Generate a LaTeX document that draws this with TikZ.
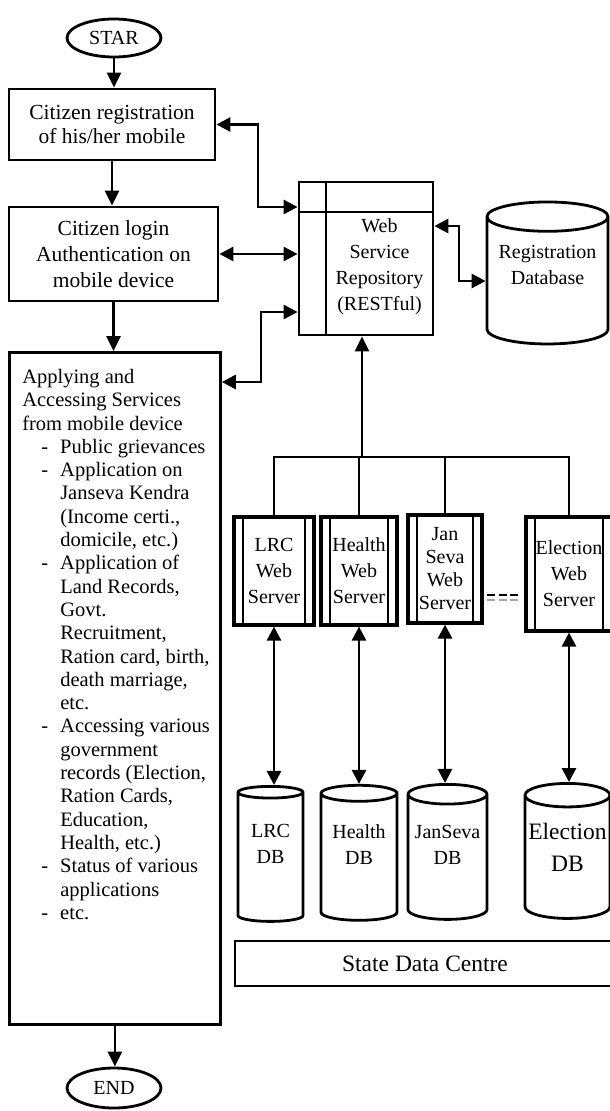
\documentclass[tikz,border=0pt]{standalone}
\usepackage{fontspec}
\setmainfont{Liberation Serif}
\usetikzlibrary{positioning,shapes.geometric,arrows.meta}

\newcommand{\bitem}{\hspace*{19pt}\makebox[19pt][l]{-}}
\newcommand{\bcont}{\hspace*{38pt}}
\newcommand{\lowstrut}[1]{\rule[-#1]{0pt}{#1}}

\begin{document}
\begin{tikzpicture}[
x=1pt, y=-1pt,
every node/.style={font=\fontsize{20}{26}\selectfont},
terminal/.style={ellipse, draw, line width=2.8pt, minimum width=94pt, minimum height=38pt, inner sep=0pt},
stepbox/.style={rectangle, draw, line width=2.8pt, align=center, inner sep=0pt},
repo/.style={rectangle, draw, line width=2.8pt, inner sep=0pt, minimum width=134pt, minimum height=153pt,
  path picture={\draw[line width=2.8pt]
    ([xshift=27pt]path picture bounding box.north west) -- ([xshift=27pt]path picture bounding box.south west)
    ([yshift=-30pt]path picture bounding box.north west) -- ([yshift=-30pt]path picture bounding box.north east);}},
server/.style={rectangle, draw, line width=3.2pt, align=center, inner sep=0pt, minimum height=108pt,
  path picture={\draw[line width=1.7pt]
    ([xshift=9pt]path picture bounding box.north west) -- ([xshift=9pt]path picture bounding box.south west)
    ([xshift=-9pt]path picture bounding box.north east) -- ([xshift=-9pt]path picture bounding box.south east);}},
dbase/.style={cylinder, shape border rotate=90, draw, line width=2.8pt, aspect=0.3, inner sep=0pt},
arr/.style={line width=2.8pt, -{Triangle[length=15pt,width=14pt]}},
biarr/.style={line width=2.8pt, {Triangle[length=14pt,width=14pt]}-{Triangle[length=14pt,width=14pt]}},
busline/.style={line width=1.5pt},
]
\useasboundingbox (0,0) rectangle (610,1111);

% left column: the citizen's flow
\node[terminal] (star) at (114,38) {STAR};
\node[stepbox, minimum width=206pt, minimum height=71pt, font=\fontsize{21.5}{24}\selectfont] (reg) at (112,124.5) {Citizen registration\\of his/her mobile};
\node[stepbox, minimum width=209pt, minimum height=94pt, font=\fontsize{21.5}{26}\selectfont] (login) at (113.5,254) {Citizen login\\Authentication on\\mobile device};
\node[stepbox, anchor=north west, minimum width=211pt, minimum height=672pt, align=left, font=\fontsize{20.5}{23.3}\selectfont] (apply) at (8,351) {\hspace*{12.7pt}\parbox[t][672pt][t]{198pt}{\raggedright
\rule{0pt}{31pt}Applying and\\
Accessing Services\\
from mobile device\\
\bitem Public grievances\\
\bitem Application on\\
\bcont Janseva Kendra\\
\bcont (Income certi.,\\
\bcont domicile, etc.)\\
\bitem Application of\\
\bcont Land Records,\\
\bcont Govt.\\
\bcont Recruitment,\\
\bcont Ration card, birth,\\
\bcont death marriage,\\
\bcont etc.\\
\bitem Accessing various\\
\bcont government\\
\bcont records (Election,\\
\bcont Ration Cards,\\
\bcont Education,\\
\bcont Health, etc.)\\
\bitem Status of various\\
\bcont applications\\
\bitem etc.}};
\node[terminal, minimum height=40pt] (end) at (114,1088) {END};

% repository and registration store
\node[repo] (wsr) at (366,258.5) {\hspace*{27pt}\begin{tabular}{@{}c@{}}\rule{0pt}{34pt}Web\\Service\\Repository\\(RESTful)\end{tabular}};
\node[dbase, minimum width=121pt, minimum height=142pt] (regdb) at (547.5,281) {\begin{tabular}{@{}c@{}}Registration\\Database\lowstrut{38pt}\end{tabular}};

% web servers
\node[server, minimum width=80pt] (lrcws) at (274,571) {LRC\\Web\\Server};
\node[server, minimum width=76pt] (hws) at (359,571) {Health\\Web\\Server};
\node[server, minimum width=74pt, font=\fontsize{20}{23}\selectfont] (jsws) at (445,569) {Jan\\Seva\\Web\\Server};
\node[server, minimum width=86pt, minimum height=114pt] (ews) at (569,574) {Election\\Web\\Server};

% databases
\node[dbase, minimum width=65pt, minimum height=135pt] (lrcdb) at (270.5,857.5) {\begin{tabular}{@{}c@{}}LRC\\DB\lowstrut{32pt}\end{tabular}};
\node[dbase, minimum width=76pt, minimum height=135pt] (hdb) at (359,857.5) {\begin{tabular}{@{}c@{}}Health\\DB\lowstrut{30pt}\end{tabular}};
\node[dbase, minimum width=79pt, minimum height=135pt] (jsdb) at (447.5,857.5) {\begin{tabular}{@{}c@{}}JanSeva\\DB\lowstrut{30pt}\end{tabular}};
\node[dbase, minimum width=85pt, minimum height=135pt, font=\fontsize{23.5}{32}\selectfont] (edb) at (567.5,857.5) {\begin{tabular}{@{}c@{}}Election\\DB\lowstrut{26pt}\end{tabular}};

\node[draw, line width=1.2pt, minimum width=380pt, minimum height=45pt, font=\fontsize{23.5}{28}\selectfont] (sdc) at (425,963.5) {State Data Centre};

% flow
\draw[arr] (star.south) -- (star.south |- reg.north);
\draw[arr] (reg.south) -- (reg.south |- login.north);
\draw[arr] (login.south) -- (login.south |- apply.north);
\draw[arr] (apply.south) -- (apply.south |- end.north);

% links to the repository
\coordinate (k1) at (258,207);
\coordinate (k3) at (261,312);
\coordinate (k4) at (459,226);
\draw[biarr] (reg.east) -| (k1) -- (k1 -| wsr.west);
\draw[biarr] (login.east) -- (login.east -| wsr.west);
\draw[biarr] ([yshift=-31pt]apply.north east) -| (k3) -- (k3 -| wsr.west);
\draw[biarr] (wsr.east |- k4) -- (k4) |- (regdb.west);

% bus from the servers
\coordinate (bus) at (362,457);
\draw[busline] (lrcws.north) |- (ews.north |- bus) -- (ews.north);
\draw[busline] (hws.north) -- (hws.north |- bus);
\draw[busline] (jsws.north) -- (jsws.north |- bus);
\draw[arr] (bus) -- (bus |- wsr.south);

\draw[biarr] (lrcws.south) -- (lrcws.south |- lrcdb.north);
\draw[biarr] (hws.south) -- (hws.south |- hdb.north);
\draw[biarr] (jsws.south) -- (jsws.south |- jsdb.north);
\draw[biarr] (ews.south) -- (ews.south |- edb.north);

\draw[line width=1.8pt, dash pattern=on 8pt off 3.5pt] (487,595) -- (518,595);
\draw[gray!70, line width=1.8pt, dash pattern=on 8pt off 3.5pt] (487,600) -- (518,600);
\end{tikzpicture}
\end{document}
